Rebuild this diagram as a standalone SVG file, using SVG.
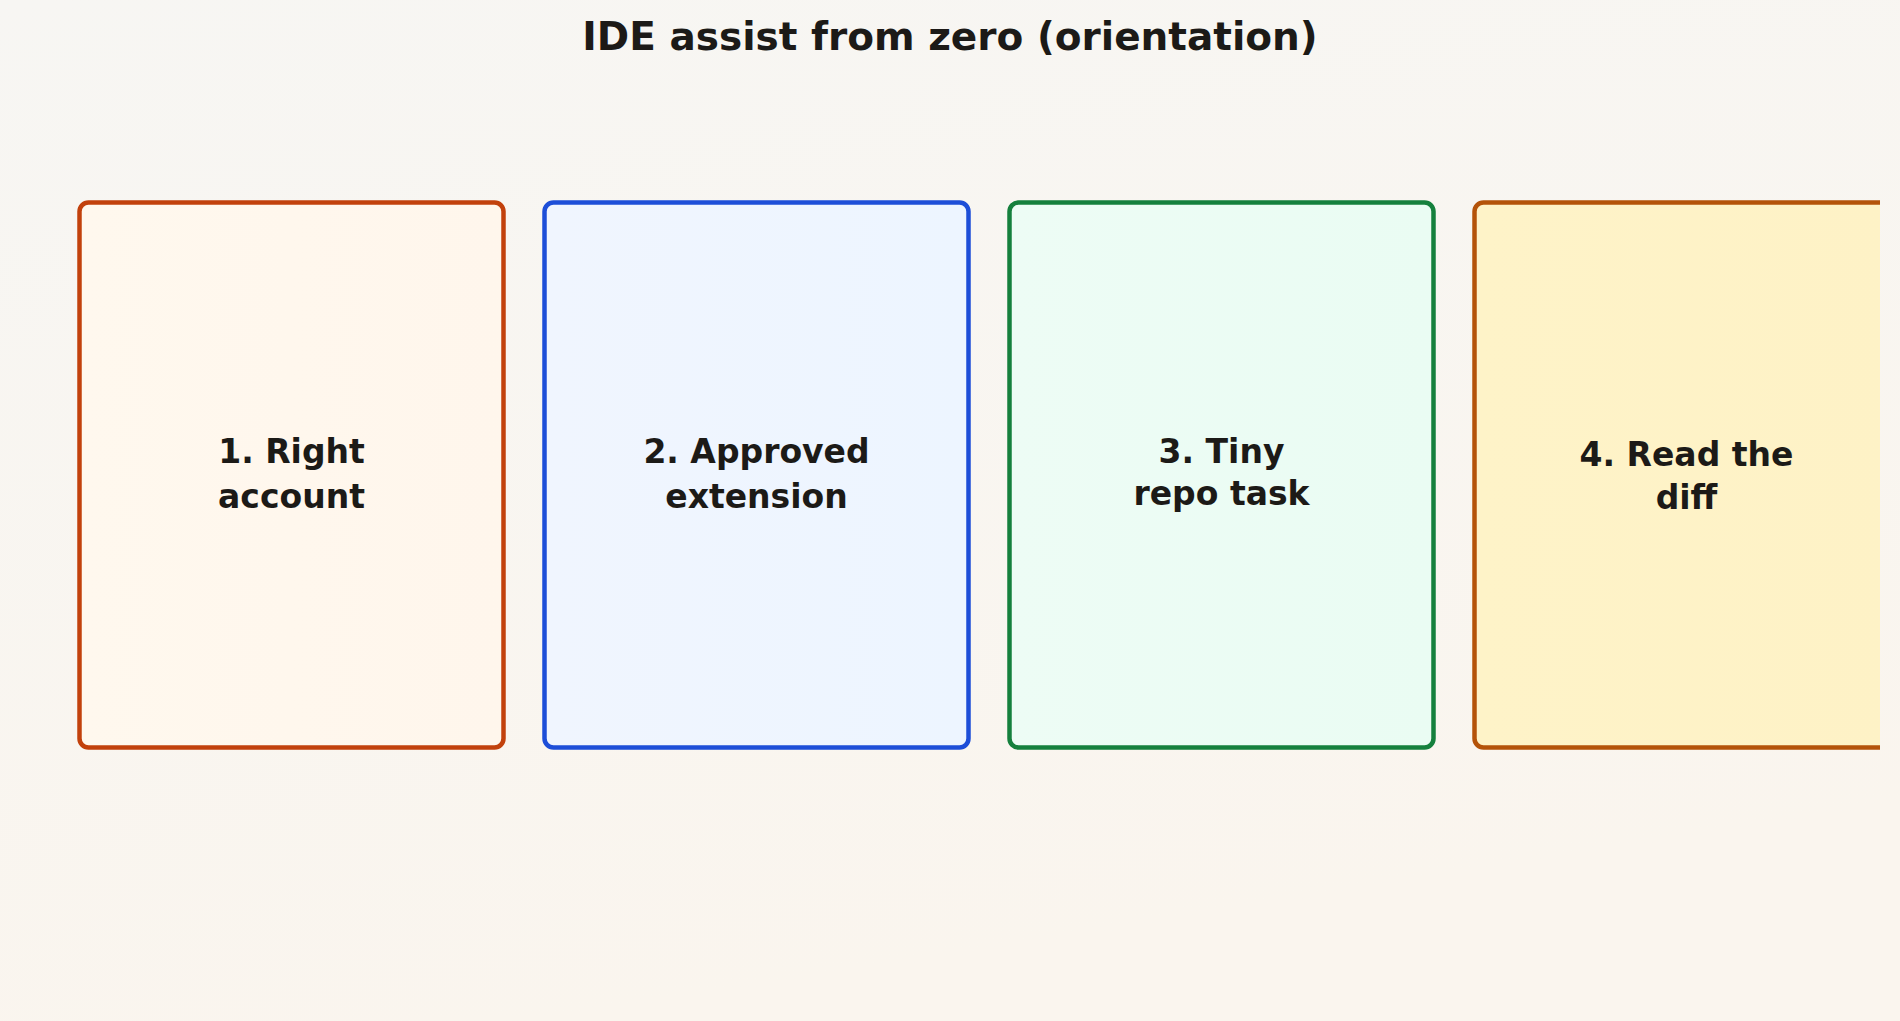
<svg xmlns="http://www.w3.org/2000/svg" width="1900" height="1021" viewBox="0 0 1900 1021">
  <defs>
    <linearGradient id="bg" x1="0" y1="0" x2="0.3" y2="1">
      <stop offset="0" stop-color="#f7f6f3"/>
      <stop offset="1" stop-color="#faf5ee"/>
    </linearGradient>
    <linearGradient id="f1" x1="0" y1="0" x2="1" y2="0">
      <stop offset="0" stop-color="#fff8ee"/>
      <stop offset="1" stop-color="#fff6ec"/>
    </linearGradient>
    <linearGradient id="f2" x1="0" y1="0" x2="1" y2="0">
      <stop offset="0" stop-color="#f0f5fe"/>
      <stop offset="1" stop-color="#edf5ff"/>
    </linearGradient>
    <linearGradient id="f3" x1="0" y1="0" x2="1" y2="0">
      <stop offset="0" stop-color="#edfcf5"/>
      <stop offset="1" stop-color="#eafcf3"/>
    </linearGradient>
    <linearGradient id="f4" x1="0" y1="0" x2="1" y2="0">
      <stop offset="0" stop-color="#fef3c8"/>
      <stop offset="1" stop-color="#fef2c6"/>
    </linearGradient>
    <clipPath id="clip">
      <rect x="0" y="0" width="1880" height="1021"/>
    </clipPath>
  </defs>
  <style>
    .box { stroke-width: 4.5; }
    .title { font-family: "DejaVu Sans", "Liberation Sans", sans-serif; font-weight: bold; font-size: 39px; fill: #1c1a17; text-anchor: middle; }
    .lbl { font-family: "DejaVu Sans", "Liberation Sans", sans-serif; font-weight: bold; font-size: 33px; fill: #1c1a17; text-anchor: middle; }
  </style>
  <rect x="0" y="0" width="1900" height="1021" fill="url(#bg)"/>
  <text class="title" x="950" y="50">IDE assist from zero (orientation)</text>
  <g id="connectors"></g>
  <g clip-path="url(#clip)">
    <g id="node1">
      <rect class="box" x="79.5" y="202.5" width="424" height="545" rx="9" fill="url(#f1)" stroke="#c2410c"/>
      <text class="lbl" x="291.5" y="463">1. Right</text>
      <text class="lbl" x="291.5" y="508">account</text>
    </g>
    <g id="node2">
      <rect class="box" x="544.5" y="202.5" width="424" height="545" rx="9" fill="url(#f2)" stroke="#1d4ed8"/>
      <text class="lbl" x="756.5" y="463">2. Approved</text>
      <text class="lbl" x="756.5" y="508">extension</text>
    </g>
    <g id="node3">
      <rect class="box" x="1009.5" y="202.5" width="424" height="545" rx="9" fill="url(#f3)" stroke="#15803d"/>
      <text class="lbl" x="1221.5" y="463">3. Tiny</text>
      <text class="lbl" x="1221.5" y="505">repo task</text>
    </g>
    <g id="node4">
      <rect class="box" x="1474.5" y="202.5" width="424" height="545" rx="9" fill="url(#f4)" stroke="#b45309"/>
      <text class="lbl" x="1686.5" y="466">4. Read the</text>
      <text class="lbl" x="1686.5" y="509">diff</text>
    </g>
  </g>
</svg>
